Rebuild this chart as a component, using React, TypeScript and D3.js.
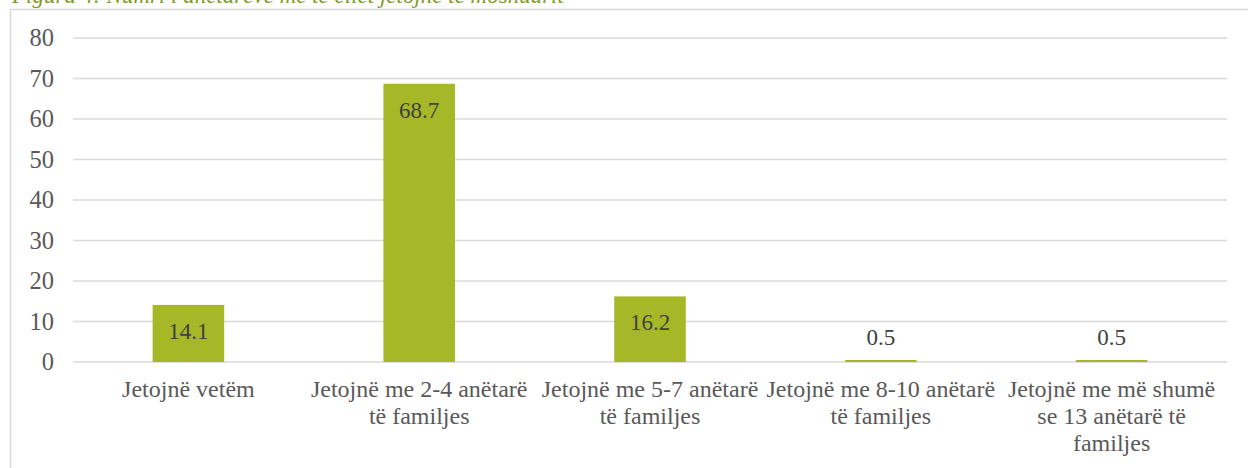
import React from "react";
import * as d3 from "d3";

const categories: string[][] = [
  ["Jetojnë vetëm"],
  ["Jetojnë me 2-4 anëtarë", "të familjes"],
  ["Jetojnë me 5-7 anëtarë", "të familjes"],
  ["Jetojnë me 8-10 anëtarë", "të familjes"],
  ["Jetojnë me më shumë", "se 13 anëtarë të", "familjes"],
];
const values: number[] = [14.1, 68.7, 16.2, 0.5, 0.5];
const yTicks: number[] = [0, 10, 20, 30, 40, 50, 60, 70, 80];
const title = "Figura 4: Numri i anëtarëve me të cilët jetojnë të moshuarit";

const W = 1248;
const H = 468;
const BAR = "#a6b828";
const FONT = "Liberation Serif, Times New Roman, serif";

export default function App() {
  const x = d3
    .scaleBand<number>()
    .domain(values.map((_, i) => i))
    .range([73, 1227])
    .paddingInner(0.69)
    .paddingOuter(0.345);
  const y = d3.scaleLinear().domain([0, 80]).range([362, 38]);

  return (
    <svg
      width={W}
      height={H}
      style={{ position: "absolute", left: 0, top: 0, background: "#fff", fontFamily: FONT }}
    >
      <text x={12} y={3} fill="#7f9b26" fontSize={23} fontStyle="italic" style={{ fontFamily: FONT }}>
        {title}
      </text>
      <rect x={10.5} y={9.5} width={1240} height={470} fill="none" stroke="#d9d9d9" strokeWidth={1.5} />
      {yTicks.map((t) => (
        <g key={t}>
          <line x1={73} x2={1227} y1={y(t)} y2={y(t)} stroke="#d9d9d9" strokeWidth={1.3} />
          <text x={54} y={y(t) + 8} textAnchor="end" fontSize={24.5} fill="#595959" style={{ fontFamily: FONT }}>
            {t}
          </text>
        </g>
      ))}
      {values.map((v, i) => {
        const bx = x(i)!;
        const bw = x.bandwidth();
        const top = y(v);
        const h = y(0) - top;
        const inside = h > 40;
        return (
          <g key={i}>
            <rect x={bx} y={top} width={bw} height={h} fill={BAR} />
            <text
              x={bx + bw / 2}
              y={inside ? top + 34 : top - 15}
              textAnchor="middle"
              fontSize={23}
              fill="#404040"
              style={{ fontFamily: FONT }}
            >
              {v.toFixed(1)}
            </text>
          </g>
        );
      })}
      {categories.map((lines, i) => {
        const cx = x(i)! + x.bandwidth() / 2;
        return (
          <text key={i} textAnchor="middle" fontSize={24} fill="#595959" style={{ fontFamily: FONT }}>
            {lines.map((l, j) => (
              <tspan key={j} x={cx} y={397 + j * 27}>
                {l}
              </tspan>
            ))}
          </text>
        );
      })}
    </svg>
  );
}
